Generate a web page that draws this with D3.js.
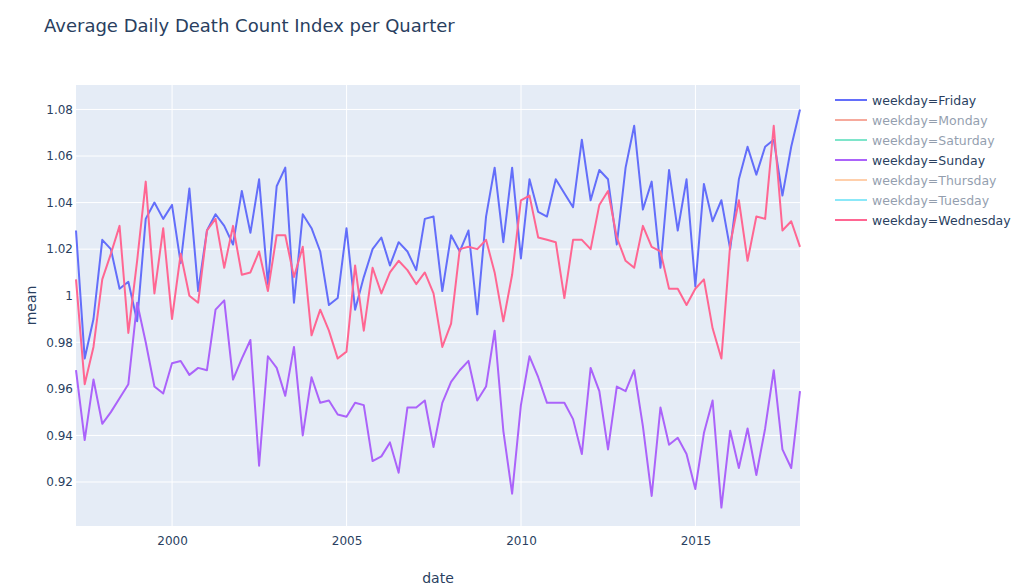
<!doctype html>
<html>
<head>
<meta charset="utf-8" />
<title>Average Daily Death Count Index per Quarter</title>
<script src="https://cdn.jsdelivr.net/npm/d3@7"></script>
<style>
  html,body{margin:0;background:#fff}
  body{font-family:"DejaVu Sans", verdana, arial, sans-serif}
  svg text{font-family:"DejaVu Sans", verdana, arial, sans-serif}
</style>
</head>
<body>
<svg id="chart" width="1024" height="588"></svg>
<script>
// quarterly series, first quarter ends 1997-03-31
const firstQuarterEnd = "1997-03-31";
const quarterCount = 84;

const friday = [
  1.028, 0.973, 0.990, 1.024, 1.020, 1.003, 1.006, 0.989, 1.033, 1.040,
  1.033, 1.039, 1.014, 1.046, 1.002, 1.028, 1.035, 1.030, 1.022, 1.045,
  1.027, 1.050, 1.005, 1.047, 1.055, 0.997, 1.035, 1.029, 1.019, 0.996,
  0.999, 1.029, 0.994, 1.008, 1.020, 1.025, 1.013, 1.023, 1.019, 1.011,
  1.033, 1.034, 1.002, 1.026, 1.019, 1.028, 0.992, 1.034, 1.055, 1.023,
  1.055, 1.016, 1.050, 1.036, 1.034, 1.050, 1.044, 1.038, 1.067, 1.041,
  1.054, 1.050, 1.022, 1.055, 1.073, 1.037, 1.049, 1.012, 1.054, 1.028,
  1.050, 1.004, 1.048, 1.032, 1.041, 1.020, 1.050, 1.064, 1.052, 1.064,
  1.067, 1.043, 1.064, 1.080
];

const sunday = [
  0.968, 0.938, 0.964, 0.945, 0.950, 0.956, 0.962, 0.997, 0.980, 0.961,
  0.958, 0.971, 0.972, 0.966, 0.969, 0.968, 0.994, 0.998, 0.964, 0.973,
  0.981, 0.927, 0.974, 0.969, 0.957, 0.978, 0.940, 0.965, 0.954, 0.955,
  0.949, 0.948, 0.954, 0.953, 0.929, 0.931, 0.937, 0.924, 0.952, 0.952,
  0.955, 0.935, 0.954, 0.963, 0.968, 0.972, 0.955, 0.961, 0.985, 0.942,
  0.915, 0.953, 0.974, 0.965, 0.954, 0.954, 0.954, 0.947, 0.932, 0.969,
  0.959, 0.934, 0.961, 0.959, 0.968, 0.944, 0.914, 0.952, 0.936, 0.939,
  0.932, 0.917, 0.941, 0.955, 0.909, 0.942, 0.926, 0.943, 0.923, 0.943,
  0.968, 0.934, 0.926, 0.959
];

const wednesday = [
  1.007, 0.962, 0.978, 1.007, 1.018, 1.030, 0.984, 1.015, 1.049, 1.001,
  1.029, 0.990, 1.018, 1.000, 0.997, 1.028, 1.033, 1.012, 1.030, 1.009,
  1.010, 1.019, 1.002, 1.026, 1.026, 1.008, 1.021, 0.983, 0.994, 0.985,
  0.973, 0.976, 1.013, 0.985, 1.012, 1.001, 1.010, 1.015, 1.011, 1.005,
  1.010, 1.001, 0.978, 0.988, 1.020, 1.021, 1.020, 1.024, 1.010, 0.989,
  1.009, 1.041, 1.043, 1.025, 1.024, 1.023, 0.999, 1.024, 1.024, 1.020,
  1.039, 1.045, 1.025, 1.015, 1.012, 1.030, 1.021, 1.019, 1.003, 1.003,
  0.996, 1.003, 1.007, 0.986, 0.973, 1.022, 1.041, 1.015, 1.034, 1.033,
  1.073, 1.028, 1.032, 1.021
];

const legendNames = ["Friday","Monday","Saturday","Sunday","Thursday","Tuesday","Wednesday"];
const legendColors = ["#636efa","#EF553B","#00cc96","#ab63fa","#FFA15A","#19d3f3","#FF6692"];
const visibleSeries = {Friday: friday, Sunday: sunday, Wednesday: wednesday};

const yTicks = [0.92, 0.94, 0.96, 0.98, 1, 1.02, 1.04, 1.06, 1.08];
const xTickYears = [2000, 2005, 2010, 2015];

const svg = d3.select('#chart');
const W = 1024, H = 588;
const m = {left:76, right:224, top:85, bottom:62};
const iw = W - m.left - m.right, ih = H - m.top - m.bottom;

// quarter end dates
const parse = d3.timeParse('%Y-%m-%d');
const start = parse(firstQuarterEnd);
const dates = d3.range(quarterCount).map(i => d3.timeDay.offset(d3.timeMonth.offset(d3.timeDay.offset(start,1), i*3), -1));

const x = d3.scaleTime().domain(d3.extent(dates)).range([m.left, m.left+iw]);
const y = d3.scaleLinear().domain([0.9011, 1.0905]).range([m.top+ih, m.top]);

// plot background
svg.append('rect')
  .attr('x', m.left).attr('y', m.top)
  .attr('width', iw).attr('height', ih)
  .attr('fill', '#e5ecf6');

// grid
const grid = svg.append('g');
grid.selectAll('.gy').data(yTicks).join('line')
  .attr('x1', m.left).attr('x2', m.left+iw)
  .attr('y1', d => y(d)).attr('y2', d => y(d))
  .attr('stroke', '#fff').attr('stroke-width', 1);
grid.selectAll('.gx').data(xTickYears).join('line')
  .attr('x1', d => x(new Date(d,0,1))).attr('x2', d => x(new Date(d,0,1)))
  .attr('y1', m.top).attr('y2', m.top+ih)
  .attr('stroke', '#fff').attr('stroke-width', 1);

// axes (no domain lines, no tick marks, plotly style)
const fmt = d => String(+d.toFixed(2));
const yAxis = svg.append('g')
  .attr('transform', `translate(${m.left},0)`)
  .call(d3.axisLeft(y).tickValues(yTicks).tickFormat(fmt).tickSize(0).tickPadding(3));
const xAxis = svg.append('g')
  .attr('transform', `translate(0,${m.top+ih})`)
  .call(d3.axisBottom(x).tickValues(xTickYears.map(yr => new Date(yr,0,1))).tickFormat(d3.timeFormat('%Y')).tickSize(0).tickPadding(10));
[yAxis, xAxis].forEach(a => {
  a.select('.domain').remove();
  a.selectAll('text').attr('fill', '#2a3f5f').style('font-size', '12px')
    .style('font-family', '"DejaVu Sans", verdana, sans-serif');
});

// lines
const line = d3.line().x((d,i) => x(dates[i])).y(d => y(d));
const plot = svg.append('g');
['Friday','Sunday','Wednesday'].forEach(name => {
  plot.append('path')
    .datum(visibleSeries[name])
    .attr('d', line)
    .attr('fill', 'none')
    .attr('stroke', legendColors[legendNames.indexOf(name)])
    .attr('stroke-width', 2)
    .attr('stroke-linejoin', 'round');
});

// title
svg.append('text')
  .attr('x', 44).attr('y', 32)
  .attr('fill', '#2a3f5f')
  .style('font-size', '18px')
  .text('Average Daily Death Count Index per Quarter');

// axis titles
svg.append('text')
  .attr('x', m.left + iw/2).attr('y', 583)
  .attr('text-anchor', 'middle')
  .attr('fill', '#2a3f5f')
  .style('font-size', '14px')
  .text('date');
svg.append('text')
  .attr('transform', `translate(36,${m.top + ih/2}) rotate(-90)`)
  .attr('text-anchor', 'middle')
  .attr('fill', '#2a3f5f')
  .style('font-size', '14px')
  .text('mean');

// legend
const legend = svg.append('g').attr('transform', 'translate(835,100)');
const rows = legend.selectAll('g').data(legendNames).join('g')
  .attr('transform', (d,i) => `translate(0,${i*20})`)
  .attr('opacity', d => visibleSeries[d] ? 1 : 0.5);
rows.append('line')
  .attr('x1', 0).attr('x2', 32)
  .attr('stroke', (d,i) => legendColors[i])
  .attr('stroke-width', 2);
rows.append('text')
  .attr('x', 37).attr('y', 4.5)
  .attr('fill', '#2a3f5f')
  .style('font-size', '12.5px')
  .text(d => 'weekday=' + d);
</script>
</body>
</html>
